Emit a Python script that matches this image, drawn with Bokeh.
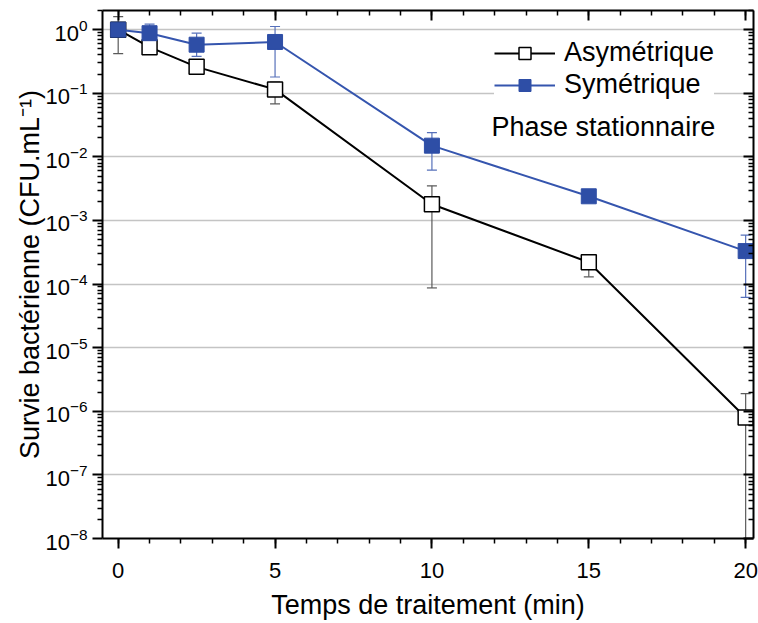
from bokeh.plotting import figure
from bokeh.models import (ColumnDataSource, Whisker, TeeHead, FixedTicker, LogAxis,
                          LinearAxis, Legend, LegendItem, Label, LogTickFormatter,
                          CustomJSTickFormatter)
from bokeh.embed import file_html
from bokeh.resources import INLINE

FONT = "Liberation Sans"
BLUE = "#2E4EA6"
BLUE_LINE = "#3555AE"
BLUE_ERR = "#5670BA"
GREY_ERR = "#5A5A5A"

# ---- data ----
time_min = [0, 1, 2.5, 5, 10, 15, 20]
asym = [1.0, 0.53, 0.26, 0.115, 1.8e-3, 2.2e-4, 8.0e-7]
asym_hi = [1.6, 0.64, 0.31, 0.15, 3.5e-3, 2.7e-4, 1.9e-6]
asym_lo = [0.42, 0.45, 0.22, 0.068, 8.7e-5, 1.3e-4, 1e-9]
sym = [1.0, 0.88, 0.58, 0.64, 0.015, 2.4e-3, 3.3e-4]
sym_hi = [1.0, 1.22, 0.88, 1.12, 0.024, 2.6e-3, 5.9e-4]
sym_lo = [1.0, 0.70, 0.38, 0.18, 6.2e-3, 2.2e-3, 6.2e-5]

x_major = [0, 5, 10, 15, 20]
x_minor = list(range(0, 21))
y_exponents = list(range(-8, 1))

src_a = ColumnDataSource(dict(x=time_min, y=asym, hi=asym_hi, lo=asym_lo))
src_s = ColumnDataSource(dict(x=time_min, y=sym, hi=sym_hi, lo=sym_lo))

y_major = [10.0 ** e for e in y_exponents]
y_minor = [m * 10.0 ** e for e in y_exponents for m in range(2, 10)]

xticker = FixedTicker(ticks=x_major, minor_ticks=x_minor)
yticker = FixedTicker(ticks=y_major, minor_ticks=y_minor)

p = figure(y_axis_type="log", x_range=(-0.5, 20.25), y_range=(1e-8, 2),
           frame_width=651, frame_height=528,
           min_border_left=102, min_border_right=5, min_border_top=10, min_border_bottom=85,
           output_backend="svg", toolbar_location=None)
p.outline_line_color = None
p.background_fill_color = "white"

# grid
p.xgrid.visible = False
p.ygrid.ticker = yticker
p.ygrid.grid_line_color = "#C4C4C4"
p.ygrid.grid_line_width = 1.5

def style_axis(ax):
    ax.axis_line_width = 2
    ax.axis_line_color = "black"
    ax.major_tick_line_width = 2
    ax.minor_tick_line_width = 1.5
    ax.major_tick_line_color = "black"
    ax.minor_tick_line_color = "black"
    ax.major_label_text_font = FONT
    ax.major_label_text_font_size = "22px"
    ax.major_label_text_color = "black"
    ax.axis_label_text_font = FONT
    ax.axis_label_text_font_size = "27px"
    ax.axis_label_text_font_style = "normal"
    ax.axis_label_text_color = "black"

xa = p.xaxis[0]
style_axis(xa)
xa.ticker = xticker
xa.major_tick_out = 10
xa.major_tick_in = 0
xa.minor_tick_out = 5
xa.minor_tick_in = 0
xa.major_label_standoff = 14
xa.axis_label = "Temps de traitement (min)"
xa.axis_label_standoff = 9

ya = p.yaxis[0]
style_axis(ya)
ya.ticker = yticker
ya.formatter = LogTickFormatter()
ya.major_tick_out = 10
ya.major_tick_in = 0
ya.minor_tick_out = 5
ya.minor_tick_in = 0
ya.major_label_standoff = 5
ya.axis_label = "Survie bactérienne (CFU.mL\u207b\u00b9)"
ya.axis_label_standoff = -3

blank = CustomJSTickFormatter(code="return ''")

top = LinearAxis(ticker=xticker, formatter=blank)
style_axis(top)
top.major_tick_in = 10
top.major_tick_out = 0
top.minor_tick_in = 5
top.minor_tick_out = 0
top.major_label_text_font_size = "1px"
top.major_label_standoff = 0
p.add_layout(top, "above")

right = LogAxis(ticker=yticker, formatter=blank)
style_axis(right)
right.major_tick_in = 10
right.major_tick_out = 0
right.minor_tick_in = 5
right.minor_tick_out = 0
right.major_label_text_font_size = "1px"
right.major_label_standoff = 0
p.add_layout(right, "right")

# error bars
for src, col in ((src_a, GREY_ERR), (src_s, BLUE_ERR)):
    w = Whisker(source=src, base="x", upper="hi", lower="lo", level="underlay",
                line_color=col, line_width=1.2,
                upper_head=TeeHead(size=10, line_color=col, line_width=1.2),
                lower_head=TeeHead(size=10, line_color=col, line_width=1.2))
    p.add_layout(w)

la = p.line("x", "y", source=src_a, line_color="black", line_width=2)
sa = p.scatter("x", "y", source=src_a, marker="square", size=15,
               fill_color="white", line_color="black", line_width=1.5)
ls = p.line("x", "y", source=src_s, line_color=BLUE_LINE, line_width=2)
ss = p.scatter("x", "y", source=src_s, marker="square", size=15,
               fill_color=BLUE, line_color=BLUE, line_width=1)

legend = Legend(items=[LegendItem(label="Asymétrique", renderers=[la, sa]),
                       LegendItem(label="Symétrique", renderers=[ls, ss])],
                location=(392, 438),
                label_text_font=FONT, label_text_font_size="27px",
                label_text_color="black",
                glyph_width=61, glyph_height=30, spacing=1, padding=4,
                label_standoff=9, margin=0,
                border_line_color=None, background_fill_color="white",
                background_fill_alpha=1.0)
p.add_layout(legend)

p.add_layout(Label(x=389, y=412, x_units="screen", y_units="screen",
                   text="Phase stationnaire", text_font=FONT, text_font_size="27px",
                   text_color="black", text_baseline="middle",
                   background_fill_color="white"))

open("out.html", "w").write(file_html(p, INLINE))
